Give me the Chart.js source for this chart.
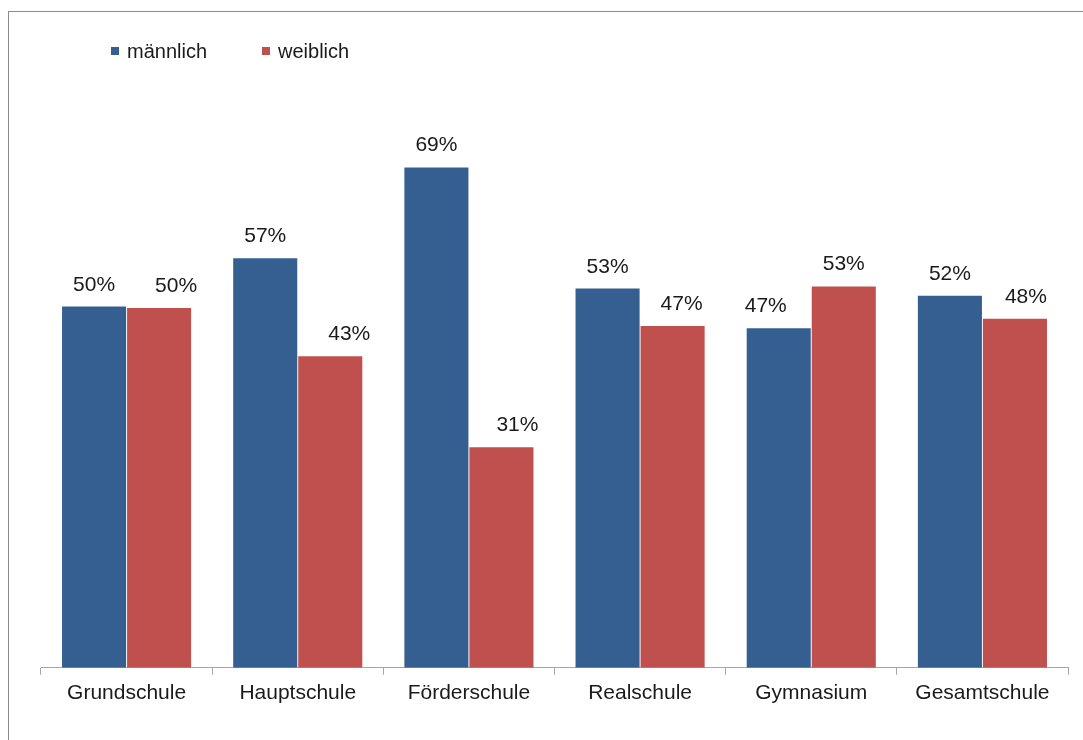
<!DOCTYPE html>
<html>
<head>
<meta charset="utf-8">
<script src="https://cdn.jsdelivr.net/npm/chart.js@4/dist/chart.umd.min.js"></script>
<style>
    html, body { margin: 0; padding: 0; background: #fff; overflow: hidden; }
    body { width: 1083px; height: 740px; position: relative; font-family: "Liberation Sans", Arial, sans-serif; }
    .frame { position: absolute; left: 8px; top: 11px; width: 1200px; height: 800px;
             border-left: 1px solid #8a8a8a; border-top: 1px solid #8a8a8a; }
    #chart { position: absolute; left: 0; top: 0; }
    .legend { position: absolute; left: 111px; top: 41px; display: flex; gap: 55px;
              font-size: 20px; line-height: 20px; color: #1a1a1a; }
    .legend span { display: flex; align-items: center; }
    .legend i { display: inline-block; width: 8px; height: 8px; margin-right: 8px; }
</style>
</head>
<body>
<div class="frame"></div>
<canvas id="chart" width="1083" height="740"></canvas>
<div class="legend" id="legend"></div>
<script>
// Data (each pair sums to 100 %)
const schools = ['Grundschule', 'Hauptschule', 'Förderschule', 'Realschule', 'Gymnasium', 'Gesamtschule'];
const maleShare = [50.1, 56.8, 69.4, 52.6, 47.1, 51.6];
const femaleShare = [49.9, 43.2, 30.6, 47.4, 52.9, 48.4];
const seriesNames = ['männlich', 'weiblich'];

const colors = ['#365f91', '#c0504d'];
// horizontal nudges of the value labels, as placed in the original
const labelShift = [
    [0, 0, 0, 0, -13, 0],
    [17, 19, 16, 9, 0, 11]
];

// simple legend
const legend = document.getElementById('legend');
seriesNames.forEach((name, i) => {
    const item = document.createElement('span');
    item.innerHTML = '<i style="background:' + colors[i] + '"></i>' + name;
    legend.appendChild(item);
});

// value labels above bars
const valueLabels = {
    id: 'valueLabels',
    afterDatasetsDraw(chart) {
        const ctx = chart.ctx;
        ctx.save();
        ctx.font = '21px "Liberation Sans", Arial, sans-serif';
        ctx.fillStyle = '#1a1a1a';
        ctx.textAlign = 'center';
        ctx.textBaseline = 'alphabetic';
        chart.data.datasets.forEach((ds, d) => {
            chart.getDatasetMeta(d).data.forEach((bar, i) => {
                ctx.fillText(Math.round(ds.data[i]) + '%', bar.x + labelShift[d][i], bar.y - 16);
            });
        });
        ctx.restore();
    }
};

const ctx = document.getElementById('chart').getContext('2d');
new Chart(ctx, {
    type: 'bar',
    data: {
        labels: schools,
        datasets: [
            { label: seriesNames[0], data: maleShare, backgroundColor: colors[0] },
            { label: seriesNames[1], data: femaleShare, backgroundColor: colors[1] }
        ]
    },
    options: {
        responsive: false,
        animation: false,
        categoryPercentage: 0.76,
        barPercentage: 0.985,
        layout: {
            padding: { left: 41, right: 15, top: 91, bottom: 28 }
        },
        plugins: {
            legend: { display: false },
            tooltip: { enabled: false }
        },
        scales: {
            y: {
                display: false,
                min: 0,
                max: 80
            },
            x: {
                grid: {
                    drawOnChartArea: false,
                    drawTicks: true,
                    tickLength: 7,
                    color: '#a6a6a6'
                },
                border: { color: '#a6a6a6', width: 1 },
                ticks: {
                    padding: 6,
                    color: '#1a1a1a',
                    font: { family: '"Liberation Sans", Arial, sans-serif', size: 21 }
                }
            }
        }
    },
    plugins: [valueLabels]
});
</script>
</body>
</html>
